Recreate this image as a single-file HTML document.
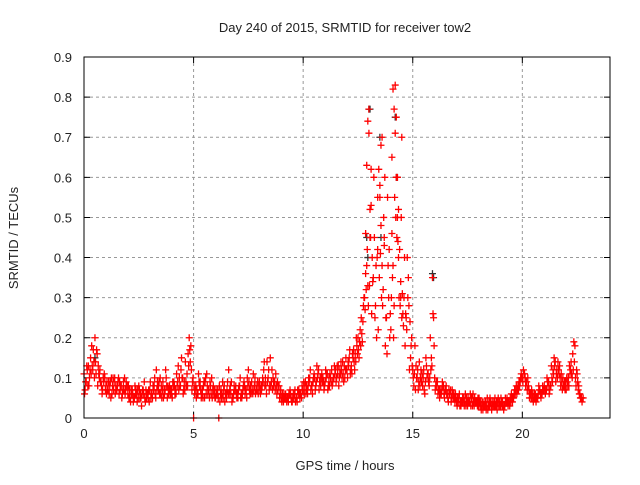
<!DOCTYPE html>
<html><head><meta charset="utf-8"><style>
body{margin:0;background:#fff}
svg text{font-family:"Liberation Sans",sans-serif;font-size:13px;fill:#222}
</style></head><body>
<svg id="chart" width="640" height="480" xmlns="http://www.w3.org/2000/svg">
<text x="345" y="32" text-anchor="middle">Day 240 of 2015, SRMTID for receiver tow2</text>
<g id="grid"></g>
<g id="ticks"></g>
<g id="marks"></g>
<rect x="84" y="57" width="526" height="361" fill="none" stroke="#000" stroke-width="1"/>
<text x="345" y="470" text-anchor="middle">GPS time / hours</text>
<text transform="translate(18,238) rotate(-90)" text-anchor="middle">SRMTID / TECUs</text>
</svg>
<script>
const xTicks=[0,5,10,15,20];
const yTicks=[0,0.1,0.2,0.3,0.4,0.5,0.6,0.7,0.8,0.9];
const yTickLabels=["0","0.1","0.2","0.3","0.4","0.5","0.6","0.7","0.8","0.9"];
const sampleStart=0, sampleStep=0.1, offsetB=0.05, offsetC=0.025, offsetD=0.075;
const redA=[0.11,0.09,0.13,0.15,0.12,0.20,0.16,0.10,0.08,0.09,
0.08,0.07,0.09,0.08,0.10,0.07,0.06,0.08,0.09,0.07,
0.06,0.05,0.07,0.05,0.06,0.08,0.05,0.07,0.04,0.06,
0.07,0.06,0.08,0.12,0.07,0.06,0.09,0.07,0.05,0.08,
0.07,0.09,0.06,0.13,0.08,0.10,0.07,0.11,0.20,0.12,
0.00,0.08,0.06,0.09,0.07,0.05,0.11,0.07,0.06,0.08,
0.05,0.07,0.04,0.06,0.08,0.05,0.12,0.06,0.05,0.07,
0.06,0.08,0.05,0.09,0.07,0.12,0.08,0.06,0.10,0.07,
0.09,0.07,0.12,0.08,0.10,0.15,0.07,0.09,0.06,0.08,
0.05,0.04,0.06,0.05,0.07,0.04,0.06,0.05,0.07,0.06,
0.07,0.09,0.06,0.10,0.08,0.11,0.09,0.12,0.08,0.10,
0.09,0.11,0.08,0.12,0.10,0.09,0.13,0.11,0.14,0.10,
0.12,0.15,0.13,0.17,0.14,0.20,0.22,0.19,0.30,0.38,
0.77,0.62,0.35,0.28,0.42,0.55,0.70,0.45,0.25,0.30,
0.22,0.38,0.83,0.60,0.42,0.70,0.30,0.25,0.35,0.15,
0.12,0.18,0.10,0.14,0.09,0.12,0.15,0.11,0.20,0.35,
0.10,0.08,0.07,0.06,0.08,0.07,0.05,0.06,0.07,0.05,
0.04,0.05,0.03,0.04,0.06,0.03,0.04,0.05,0.03,0.04,
0.03,0.04,0.02,0.03,0.05,0.03,0.02,0.04,0.03,0.05,
0.03,0.04,0.03,0.05,0.04,0.06,0.05,0.07,0.08,0.09,
0.10,0.11,0.09,0.07,0.05,0.04,0.06,0.05,0.07,0.06,
0.08,0.07,0.09,0.08,0.12,0.14,0.10,0.13,0.09,0.08,
0.07,0.10,0.12,0.16,0.18,0.11,0.06,0.05];
const redB=[0.07,0.12,0.10,0.18,0.14,0.11,0.13,0.09,0.07,0.10,
0.09,0.06,0.10,0.07,0.08,0.09,0.07,0.06,0.10,0.08,
0.05,0.07,0.04,0.06,0.07,0.05,0.06,0.09,0.05,0.07,
0.05,0.08,0.06,0.09,0.06,0.05,0.07,0.10,0.06,0.07,
0.09,0.06,0.08,0.10,0.15,0.07,0.09,0.16,0.14,0.09,
0.06,0.07,0.09,0.05,0.08,0.10,0.06,0.09,0.05,0.07,
0.06,0.00,0.07,0.05,0.06,0.09,0.07,0.04,0.08,0.06,
0.07,0.05,0.07,0.06,0.10,0.07,0.09,0.07,0.08,0.06,
0.06,0.10,0.08,0.14,0.07,0.09,0.08,0.11,0.07,0.06,
0.06,0.05,0.04,0.06,0.05,0.06,0.04,0.07,0.05,0.08,
0.06,0.08,0.10,0.07,0.09,0.07,0.10,0.09,0.11,0.07,
0.10,0.08,0.10,0.09,0.11,0.13,0.10,0.12,0.09,0.15,
0.14,0.11,0.16,0.12,0.18,0.15,0.25,0.28,0.36,0.33,
0.52,0.40,0.45,0.20,0.62,0.48,0.32,0.18,0.55,0.20,
0.46,0.28,0.75,0.52,0.34,0.26,0.18,0.40,0.12,0.20,
0.08,0.13,0.07,0.10,0.08,0.06,0.10,0.08,0.15,0.25,
0.08,0.06,0.07,0.09,0.05,0.06,0.07,0.04,0.05,0.06,
0.05,0.03,0.04,0.03,0.05,0.04,0.03,0.06,0.04,0.03,
0.04,0.03,0.04,0.02,0.03,0.04,0.03,0.05,0.02,0.04,
0.04,0.02,0.04,0.03,0.05,0.04,0.07,0.06,0.09,0.11,
0.12,0.08,0.10,0.06,0.05,0.06,0.05,0.08,0.05,0.07,
0.06,0.09,0.07,0.10,0.15,0.11,0.12,0.08,0.10,0.07,
0.09,0.13,0.11,0.19,0.08,0.07,0.05];
const redC=[0.06,0.13,0.08,0.11,0.17,0.14,0.08,0.12,0.06,0.11,
0.06,0.09,0.05,0.10,0.06,0.08,0.09,0.05,0.07,0.09,
0.08,0.04,0.06,0.08,0.04,0.07,0.03,0.06,0.07,0.05,
0.09,0.05,0.10,0.07,0.09,0.08,0.05,0.12,0.08,0.06,
0.05,0.08,0.11,0.07,0.12,0.06,0.14,0.08,0.17,0.07,
0.08,0.05,0.11,0.07,0.05,0.09,0.08,0.05,0.10,0.06,
0.07,0.05,0.06,0.09,0.04,0.07,0.06,0.09,0.06,0.08,
0.05,0.10,0.06,0.08,0.05,0.09,0.06,0.11,0.06,0.09,
0.07,0.08,0.14,0.06,0.12,0.08,0.10,0.07,0.09,0.05,
0.04,0.06,0.05,0.04,0.06,0.05,0.07,0.04,0.06,0.05,
0.09,0.06,0.08,0.12,0.06,0.10,0.13,0.07,0.10,0.09,
0.12,0.07,0.11,0.08,0.13,0.10,0.08,0.14,0.11,0.12,
0.10,0.17,0.11,0.14,0.20,0.17,0.18,0.24,0.27,0.42,
0.33,0.26,0.60,0.38,0.22,0.41,0.28,0.60,0.16,0.42,
0.30,0.20,0.50,0.44,0.28,0.31,0.40,0.22,0.28,0.18,
0.10,0.07,0.12,0.08,0.11,0.07,0.13,0.09,0.12,0.26,
0.07,0.09,0.05,0.07,0.06,0.08,0.04,0.07,0.06,0.04,
0.03,0.06,0.04,0.05,0.03,0.05,0.06,0.03,0.05,0.04,
0.05,0.02,0.03,0.04,0.02,0.05,0.04,0.03,0.04,0.03,
0.05,0.03,0.05,0.04,0.03,0.05,0.06,0.08,0.07,0.10,
0.09,0.10,0.07,0.05,0.07,0.05,0.04,0.06,0.06,0.08,
0.07,0.10,0.06,0.13,0.11,0.09,0.14,0.10,0.07,0.09,
0.10,0.08,0.14,0.12,0.10,0.09,0.06,0.04];
const redD=[0.09,0.08,0.12,0.13,0.10,0.17,0.11,0.09,0.10,0.07,
0.07,0.08,0.06,0.09,0.07,0.10,0.08,0.07,0.06,0.08,
0.07,0.06,0.05,0.07,0.05,0.06,0.07,0.05,0.06,0.04,
0.06,0.07,0.05,0.08,0.10,0.07,0.06,0.08,0.07,0.06,
0.08,0.07,0.09,0.08,0.10,0.09,0.08,0.13,0.18,0.10,
0.07,0.06,0.08,0.06,0.09,0.06,0.07,0.08,0.07,0.05,
0.06,0.08,0.05,0.07,0.06,0.06,0.08,0.05,0.07,0.05,
0.08,0.06,0.08,0.07,0.08,0.06,0.07,0.08,0.07,0.08,
0.08,0.09,0.10,0.09,0.08,0.12,0.09,0.08,0.08,0.07,
0.05,0.05,0.05,0.06,0.04,0.05,0.05,0.06,0.06,0.07,
0.08,0.07,0.09,0.08,0.10,0.08,0.11,0.10,0.09,0.08,
0.11,0.10,0.09,0.10,0.12,0.11,0.12,0.10,0.13,0.12,
0.13,0.12,0.15,0.16,0.16,0.19,0.21,0.30,0.32,0.28,
0.45,0.34,0.25,0.40,0.35,0.30,0.50,0.25,0.38,0.26,
0.35,0.55,0.45,0.30,0.50,0.23,0.26,0.30,0.24,0.13,
0.11,0.10,0.09,0.12,0.10,0.09,0.11,0.10,0.13,0.18,
0.09,0.07,0.06,0.08,0.07,0.06,0.06,0.05,0.06,0.05,
0.04,0.04,0.05,0.04,0.04,0.04,0.05,0.04,0.04,0.05,
0.03,0.04,0.03,0.03,0.04,0.03,0.03,0.03,0.04,0.03,
0.03,0.03,0.04,0.04,0.04,0.05,0.06,0.07,0.08,0.10,
0.11,0.09,0.08,0.06,0.06,0.05,0.05,0.07,0.06,0.07,
0.07,0.08,0.08,0.09,0.13,0.12,0.11,0.11,0.08,0.09,
0.08,0.11,0.10,0.14,0.12,0.08,0.05,0.05];
const peakT=[12.9,12.95,13.0,13.05,13.5,13.55,13.6,13.7,14.1,14.15,14.2,14.25,14.3,14.35,14.05,13.1,13.4,14.45,14.5,12.85];
const peakV=[0.63,0.74,0.71,0.45,0.58,0.68,0.38,0.43,0.82,0.77,0.71,0.60,0.50,0.40,0.65,0.53,0.55,0.30,0.25,0.46];
const blackT=[13.0,13.05,12.9,14.2,14.25,15.9,15.95,0.5,13.5,14.3,12.95,13.55];
const blackV=[0.77,0.77,0.45,0.75,0.60,0.36,0.35,0.15,0.70,0.60,0.40,0.45];

const X0=84,X1=610,Y0=418,Y1=57,XMAX=24,YMAX=0.9;
const sx=t=>X0+(t/XMAX)*(X1-X0);
const sy=v=>Y0-(v/YMAX)*(Y0-Y1);
const NS="http://www.w3.org/2000/svg";
const grid=document.getElementById('grid'),ticks=document.getElementById('ticks'),marks=document.getElementById('marks');
function mk(tag,attrs,parent){const e=document.createElementNS(NS,tag);for(const k in attrs)e.setAttribute(k,attrs[k]);parent.appendChild(e);return e;}
xTicks.forEach(t=>{
  const x=sx(t);
  if(t>0){const g=mk('line',{x1:x,x2:x,y1:Y1,y2:Y0,stroke:'#999','stroke-dasharray':'3,3'},grid);
  
  }
  const tk=mk('path',{d:`M${x},${Y0}v-6M${x},${Y1}v6`,stroke:'#000'},ticks);
  
  
  const lb=mk('text',{x:x,y:Y0+20,'text-anchor':'middle'},ticks);lb.textContent=String(t);
  
  
});
yTicks.forEach((v,i)=>{
  const y=sy(v);
  if(v>0&&v<YMAX){const g=mk('line',{x1:X0,x2:X1,y1:y,y2:y,stroke:'#999','stroke-dasharray':'3,3'},grid);
  
  }
  const tk=mk('path',{d:`M${X0},${y}h6M${X1},${y}h-6`,stroke:'#000'},ticks);
  
  
  const lb=mk('text',{x:X0-12,y:y+5,'text-anchor':'end'},ticks);lb.textContent=yTickLabels[i];
  
  
});
function plus(t,v,color,name){
  const x=sx(t),y=sy(v);
  const p=mk('path',{d:`M${x-3.5},${y}h7M${x},${y-3.5}v7`,stroke:color,'stroke-width':1.3},marks);
  
  
}
blackT.forEach((t,i)=>plus(t,blackV[i],'#333','black-point'));
redA.forEach((v,i)=>plus(sampleStart+i*sampleStep,v,'#f00','red-point'));
redB.forEach((v,i)=>plus(offsetB+i*sampleStep,v,'#f00','red-point'));
redC.forEach((v,i)=>plus(offsetC+i*sampleStep,v,'#f00','red-point'));
redD.forEach((v,i)=>plus(offsetD+i*sampleStep,v,'#f00','red-point'));
peakT.forEach((t,i)=>plus(t,peakV[i],'#f00','red-peak-point'));
</script>
</body></html>
